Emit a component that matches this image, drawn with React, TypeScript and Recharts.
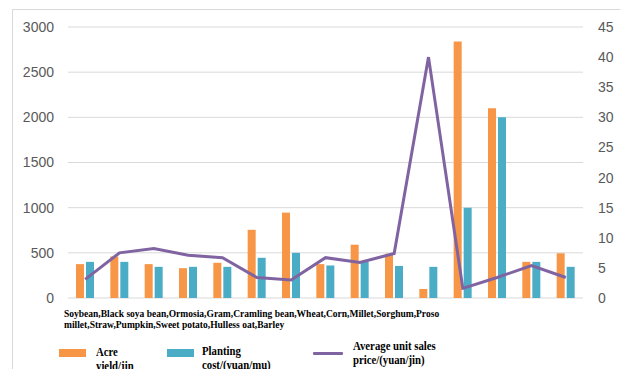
import React from "react";
import { ComposedChart, Bar, Line, XAxis, YAxis, CartesianGrid } from "recharts";

// Crop names, in plotting order
const crops = [
  "Soybean",
  "Black soya bean",
  "Ormosia",
  "Gram",
  "Cramling bean",
  "Wheat",
  "Corn",
  "Millet",
  "Sorghum",
  "Proso millet",
  "Straw",
  "Pumpkin",
  "Sweet potato",
  "Hulless oat",
  "Barley",
];

// Acre yield (jin)
const acreYield = [375, 460, 375, 330, 390, 755, 945, 375, 590, 490, 100, 2840, 2100, 400, 495];
// Planting cost (yuan/mu)
const plantingCost = [400, 400, 345, 345, 345, 445, 500, 360, 400, 355, 345, 1000, 2000, 400, 345];
// Average unit sales price (yuan/jin)
const unitPrice = [3.1, 7.5, 8.2, 7.1, 6.7, 3.4, 3.0, 6.7, 5.9, 7.4, 40.0, 1.6, 3.4, 5.4, 3.4];

const leftTicks = [0, 500, 1000, 1500, 2000, 2500, 3000];
const rightTicks = [0, 5, 10, 15, 20, 25, 30, 35, 40, 45];

const ORANGE = "#F79646";
const BLUE = "#4BACC6";
const PURPLE = "#8064A2";

const rows = crops.map((name, i) => ({
  name,
  acreYield: acreYield[i],
  plantingCost: plantingCost[i],
  unitPrice: unitPrice[i],
}));

// caption text: all crop names joined, wrapped inside "Proso millet"
const caption = crops.join(",");
const wrapAt = caption.indexOf("Proso millet") + "Proso".length;
const captionLines = [caption.slice(0, wrapAt), caption.slice(wrapAt + 1)];

const tickStyle = { fill: "#595959", fontSize: 14, fontFamily: "'Liberation Sans', Arial, sans-serif" };
const serifBold: React.CSSProperties = {
  fontFamily: "'Liberation Serif', 'Times New Roman', serif",
  fontWeight: "bold",
  color: "#000",
  whiteSpace: "nowrap",
  transformOrigin: "0 0",
};

export default function App() {
  return (
    <div
      style={{
        position: "absolute",
        left: 0,
        top: 0,
        width: 620,
        height: 369,
        background: "#fff",
        overflow: "hidden",
      }}
    >
      {/* outer frame */}
      <div
        style={{
          position: "absolute",
          left: 12,
          top: 9,
          width: 640,
          height: 420,
          border: "1px solid #d9d9d9",
          boxSizing: "border-box",
        }}
      />
      <div style={{ position: "absolute", left: 0, top: 0 }}>
        <ComposedChart
          width={620}
          height={369}
          data={rows}
          margin={{ top: 27, right: 0, bottom: 71, left: 0 }}
          barSize={8}
          barGap={2}
        >
          <CartesianGrid yAxisId="left" vertical={false} stroke="#d9d9d9" strokeWidth={1} />
          <XAxis
            dataKey="name"
            tick={false}
            tickLine={false}
            height={0}
            axisLine={{ stroke: "#d0d0d0" }}
          />
          <YAxis
            yAxisId="left"
            orientation="left"
            width={68}
            domain={[0, 3000]}
            ticks={leftTicks}
            axisLine={false}
            tickLine={false}
            tickMargin={8}
            tick={tickStyle}
          />
          <YAxis
            yAxisId="right"
            orientation="right"
            width={37}
            domain={[0, 45]}
            ticks={rightTicks}
            axisLine={false}
            tickLine={false}
            tickMargin={9}
            tick={{ ...tickStyle, textAnchor: "start" }}
          />
          <Bar yAxisId="left" dataKey="acreYield" fill={ORANGE} isAnimationActive={false} />
          <Bar yAxisId="left" dataKey="plantingCost" fill={BLUE} isAnimationActive={false} />
          <Line
            yAxisId="right"
            type="linear"
            dataKey="unitPrice"
            stroke={PURPLE}
            strokeWidth={3}
            dot={false}
            activeDot={false}
            isAnimationActive={false}
          />
        </ComposedChart>
      </div>

      {/* category caption under the axis */}
      <div
        style={{
          ...serifBold,
          position: "absolute",
          left: 64,
          top: 307.5,
          fontSize: 11,
          lineHeight: "11.6px",
          transform: "scaleX(0.865)",
        }}
      >
        {captionLines[0]}
        <br />
        {captionLines[1]}
      </div>

      {/* legend */}
      <div style={{ position: "absolute", left: 59, top: 349, width: 27, height: 8, background: ORANGE }} />
      <div style={{ ...serifBold, position: "absolute", left: 96, top: 345, fontSize: 12.5, lineHeight: "14px", transform: "scaleX(0.86)" }}>
        Acre
        <br />
        yield/jin
      </div>

      <div style={{ position: "absolute", left: 167, top: 349, width: 27, height: 8, background: BLUE }} />
      <div style={{ ...serifBold, position: "absolute", left: 202, top: 344, fontSize: 12.5, lineHeight: "14px", transform: "scaleX(0.86)" }}>
        Planting
        <br />
        cost/(yuan/mu)
      </div>

      <div style={{ position: "absolute", left: 313, top: 352, width: 30, height: 3, background: PURPLE, borderRadius: 1 }} />
      <div style={{ ...serifBold, position: "absolute", left: 353, top: 339, fontSize: 12.5, lineHeight: "14px", transform: "scaleX(0.86)" }}>
        Average unit sales
        <br />
        price/(yuan/jin)
      </div>
    </div>
  );
}
